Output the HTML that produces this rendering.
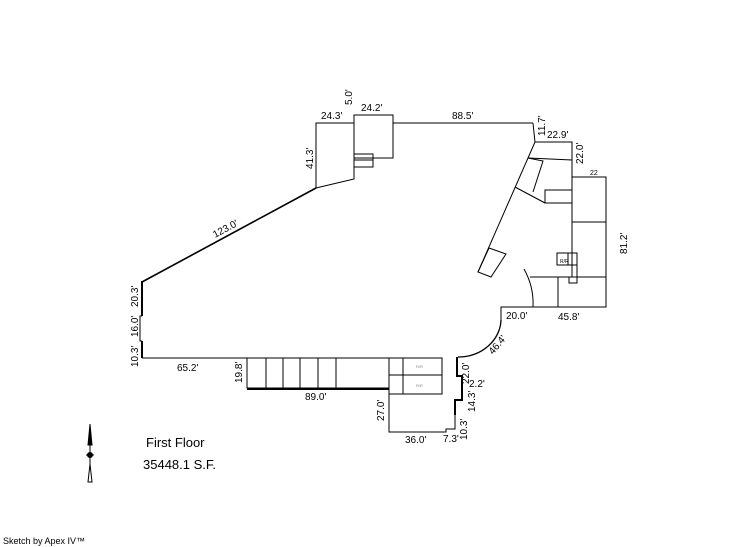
<!DOCTYPE html>
<html><head><meta charset="utf-8"><style>
html,body{margin:0;padding:0;background:#fff;width:746px;height:547px;overflow:hidden}
svg{display:block}
text{font-family:"Liberation Sans",sans-serif;font-size:10px;fill:#000}
</style></head><body>
<svg width="746" height="547" viewBox="0 0 746 547" xmlns="http://www.w3.org/2000/svg">
<g fill="none" stroke="#000" stroke-width="1">
<polyline points="316,188 316,123 354,123"/>
<rect x="354" y="115" width="39" height="43"/>
<polyline points="354,158 354,179 316,188"/>
<rect x="354" y="154" width="19" height="6"/>
<rect x="354" y="160" width="19" height="7"/>
<line x1="393" y1="123" x2="533" y2="123"/>
<line x1="316" y1="188" x2="142" y2="282" stroke-width="1.6"/>
<polyline points="142,281 142,316" stroke-width="2"/>
<polyline points="142,316 140,316 140,341 142,341"/>
<polyline points="142,341 142,358" stroke-width="2"/>
<line x1="142" y1="358" x2="247" y2="358"/>
<rect x="247" y="358" width="142" height="30"/>
<line x1="247" y1="389" x2="389" y2="389" stroke-width="2"/>
<line x1="266" y1="358" x2="266" y2="388"/>
<line x1="283" y1="358" x2="283" y2="388"/>
<line x1="300" y1="358" x2="300" y2="388"/>
<line x1="318" y1="358" x2="318" y2="388"/>
<line x1="336" y1="358" x2="336" y2="388"/>
<rect x="389" y="358" width="53" height="36"/>
<line x1="389" y1="375" x2="442" y2="375"/>
<line x1="403" y1="358" x2="403" y2="394"/>
<polyline points="389,394 389,432 446,432 446,429 455,429 455,415"/>
<polyline points="455,415 455,400 462,400 462,376 457,376 457,357" stroke-width="2"/>
<path d="M501,320 A43,38 0 0 1 458,357" stroke-width="1.3"/>
<polyline points="501,320 501,307 606,307 606,177 572,177"/>
<polyline points="533,123 535,142 572,142 572,277"/>
<line x1="535" y1="142" x2="478" y2="272"/>
<polygon points="489,248 506,254 491,277 478,272"/>
<polyline points="528,158 572,160"/>
<polyline points="528,158 543,161 533,192"/>
<polyline points="515,187 545,203"/>
<rect x="545" y="190" width="27" height="13"/>
<line x1="572" y1="222" x2="606" y2="222"/>
<line x1="530" y1="277" x2="606" y2="277"/>
<line x1="558" y1="277" x2="558" y2="307"/>
<polyline points="569,277 569,283 577,283 577,265"/>
<rect x="557" y="253" width="20" height="12"/>
<line x1="568" y1="253" x2="568" y2="265"/>
<path d="M524,269 A70,70 0 0 1 533,307"/>
</g>
<text x="321" y="119">24.3'</text>
<text x="361" y="111">24.2'</text>
<text x="452" y="119">88.5'</text>
<text x="547" y="138">22.9'</text>
<text x="177" y="371">65.2'</text>
<text x="305" y="400">89.0'</text>
<text x="405" y="443">36.0'</text>
<text x="443" y="442">7.3'</text>
<text x="506" y="319">20.0'</text>
<text x="558" y="320">45.8'</text>
<text x="590" y="175" style="font-size:7px">22</text>
<text x="560" y="263" style="font-size:5px">R/R</text>
<text x="416" y="368" style="font-size:4px;fill:#888">R/R</text>
<text x="416" y="387" style="font-size:4px;fill:#888">R/R</text>
<text transform="translate(352,105) rotate(-90)">5.0'</text>
<text transform="translate(313,169) rotate(-90)">41.3'</text>
<text transform="translate(545,136) rotate(-90)">11.7'</text>
<text transform="translate(583,164) rotate(-90)">22.0'</text>
<text transform="translate(627,254) rotate(-90)">81.2'</text>
<text transform="translate(215,238) rotate(-28)">123.0'</text>
<text transform="translate(138,307) rotate(-90)">20.3'</text>
<text transform="translate(138,337) rotate(-90)">16.0'</text>
<text transform="translate(138,367) rotate(-90)">10.3'</text>
<text transform="translate(242,383) rotate(-90)">19.8'</text>
<text transform="translate(384,421) rotate(-90)">27.0'</text>
<text transform="translate(469,384) rotate(-90)">22.0'</text>
<text x="469" y="387">2.2'</text>
<text transform="translate(475,412) rotate(-90)">14.3'</text>
<text transform="translate(467,440) rotate(-90)">10.3'</text>
<text transform="translate(493,355) rotate(-50)">46.4'</text>
<text x="146" y="447" style="font-size:13px">First Floor</text>
<text x="143" y="469" style="font-size:13px">35448.1 S.F.</text>
<text x="3" y="544" style="font-size:9px">Sketch by Apex IV™</text>
<g stroke="#000" fill="#000">
<line x1="90" y1="424" x2="90" y2="482" stroke-width="1"/>
<polygon points="90,424 92,445 88,445"/>
<circle cx="90" cy="455" r="2.5"/>
<line x1="86" y1="455" x2="94" y2="455"/>
<polygon points="90,464 92,482 88,482" fill="#fff"/>
</g>
</svg>
</body></html>
